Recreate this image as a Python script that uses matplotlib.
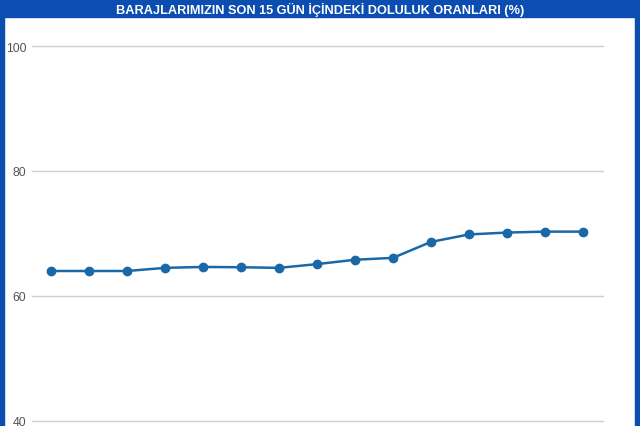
import numpy as np
import matplotlib
matplotlib.use("Agg")
import matplotlib.pyplot as plt
from matplotlib.patches import Rectangle

# veriler
gunler = np.arange(15)
doluluk = [64.0, 64.0, 64.0, 64.5, 64.65, 64.6, 64.5, 65.1, 65.8, 66.1,
           68.65, 69.85, 70.15, 70.3, 70.3]
y_ticks = [40, 60, 80, 100]
baslik = "BARAJLARIMIZIN SON 15 GÜN İÇİNDEKİ DOLULUK ORANLARI (%)"

plt.rcParams['font.family'] = ['Liberation Sans', 'DejaVu Sans']

fig = plt.figure(figsize=(6.4, 4.27), dpi=100)
fig.patch.set_facecolor('white')

# mavi çerçeve ve başlık şeridi
mavi = '#0b4db0'
fig.patches.append(Rectangle((0, 0), 4 / 640, 1, transform=fig.transFigure, color=mavi, zorder=0))
fig.patches.append(Rectangle((635 / 640, 0), 5 / 640, 1, transform=fig.transFigure, color=mavi, zorder=0))
fig.patches.append(Rectangle((0, 1 - 18 / 427), 1, 18 / 427, transform=fig.transFigure, color=mavi, zorder=0))
fig.text(0.5, 1 - 9.5 / 427, baslik, color='white', fontsize=9.2, fontweight='bold',
         ha='center', va='center')

ax = fig.add_axes([32 / 640, 5 / 427, 571 / 640, 375 / 427])
ax.set_facecolor('none')
ax.plot(gunler, doluluk, color='#1a68a8', linewidth=1.8, marker='o', markersize=6,
        clip_on=False, zorder=3)
ax.set_xlim(-0.5, 14.53)
ax.set_ylim(40, 100)
ax.set_yticks(y_ticks)
ax.set_xticks([])
ax.grid(axis='y', color='#d0d0d0', linewidth=1)
for tl in ax.yaxis.get_gridlines():
    tl.set_clip_on(False)
ax.tick_params(axis='y', length=0, pad=4, labelsize=8.8, labelcolor='#555555')
for s in ax.spines.values():
    s.set_visible(False)

fig.savefig('out.png', dpi=100)
